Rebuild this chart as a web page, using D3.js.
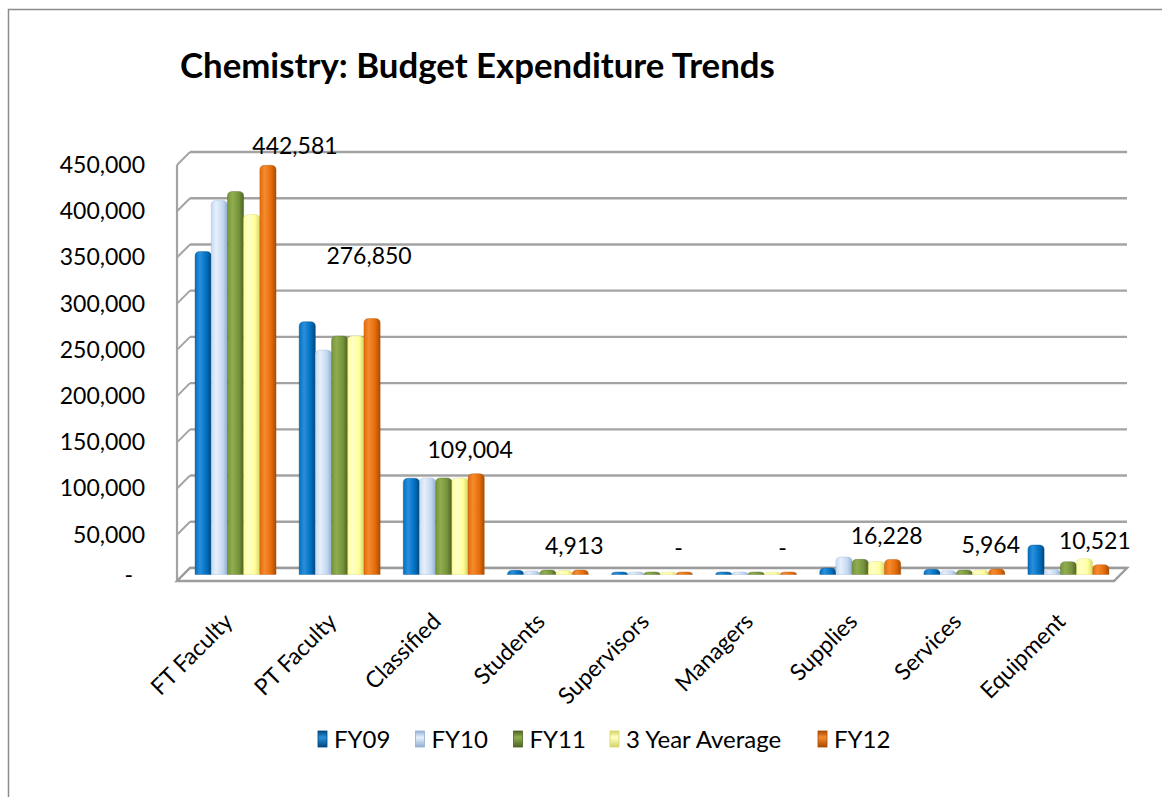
<!DOCTYPE html>
<html><head><meta charset="utf-8">
<script src="https://cdn.jsdelivr.net/npm/d3@7"></script>
<style>
body{margin:0;background:#fff;}
text{font-family:Lato,"Open Sans","DejaVu Sans",sans-serif;fill:#000;}
</style>
</head><body>
<svg id="chart" width="1162" height="797"></svg>
<script>
// ---------------- data ----------------
const categories = ["FT Faculty","PT Faculty","Classified","Students","Supervisors","Managers","Supplies","Services","Equipment"];
const seriesNames = ["FY09","FY10","FY11","3 Year Average","FY12"];
const fy09  = [349400, 273500, 104100, 4500, 0, 0, 7000, 5600, 31900];
const fy10  = [404500, 242800, 104400, 3800, 0, 0, 18900, 4100, 5500];
const fy11  = [414300, 258000, 104500, 4800, 0, 0, 16400, 4900, 13800];
const avg3  = [389400, 258100, 104333, 4367, 0, 0, 14100, 4867, 17100];
const fy12  = [442581, 276850, 109004, 4913, 0, 0, 16228, 5964, 10521];
const yTicks = [0, 50000, 100000, 150000, 200000, 250000, 300000, 350000, 400000, 450000];
const titleText = "Chemistry: Budget Expenditure Trends";

// ---------------- layout / style ----------------
const seriesValues = [fy09, fy10, fy11, avg3, fy12];
const colors = [
  {base:"#0070C0", light:"#2A8FDC", dark:"#00487E"},
  {base:"#C6D9F1", light:"#E6F0FB", dark:"#93AFD3"},
  {base:"#77933C", light:"#8FAE4E", dark:"#4D6324"},
  {base:"#FFFF99", light:"#FFFFC8", dark:"#D6D66A"},
  {base:"#E46C0A", light:"#F58B2E", dark:"#A84C02"}
];
// manual nudges of the FY12 data labels (dx, dy), as in the original
const labelNudge = [[33,4],[3,-39],[0,0],[0,0],[0,0],[0,0],[0,0],[0,0],[0,0]];

const svg = d3.select("#chart");
const depthX = 13, depthY = -13;
const plotLeft = 177, plotRight = 1114;

const yWall = d3.scaleLinear().domain([0, 450000]).range([581, 165]); // front plane
const x = d3.scaleBand().domain(categories).range([plotLeft, plotRight]).paddingInner(0).paddingOuter(0);
const groupW = 81;
const xs = d3.scaleBand().domain(seriesNames).range([0, groupW]);

// gradients
const defs = svg.append("defs");
colors.forEach((c,i)=>{
  const g = defs.append("linearGradient").attr("id","g"+i).attr("x1","0").attr("x2","1").attr("y1","0").attr("y2","0");
  g.append("stop").attr("offset","0%").attr("stop-color",c.base);
  g.append("stop").attr("offset","30%").attr("stop-color",c.light);
  g.append("stop").attr("offset","70%").attr("stop-color",c.base);
  g.append("stop").attr("offset","100%").attr("stop-color",c.dark);
  const k = defs.append("linearGradient").attr("id","k"+i).attr("x1","0").attr("x2","0").attr("y1","0").attr("y2","1");
  k.append("stop").attr("offset","0%").attr("stop-color",c.dark);
  k.append("stop").attr("offset","40%").attr("stop-color",c.light);
  k.append("stop").attr("offset","100%").attr("stop-color",c.dark);
});

// chart border
svg.append("path").attr("d","M8.5,797 L8.5,9.5 L1162,9.5").attr("fill","none").attr("stroke","#8c8c8c").attr("stroke-width",1.5);

// walls & gridlines
const grid = svg.append("g");
const gridColor = "#a3a3a3";
grid.selectAll("line.h").data(yTicks).join("line")
  .attr("x1", plotLeft + depthX).attr("x2", plotRight + depthX)
  .attr("y1", d => yWall(d) + depthY).attr("y2", d => yWall(d) + depthY)
  .attr("stroke", gridColor).attr("stroke-width", 2.4);
grid.selectAll("line.d").data(yTicks).join("line")
  .attr("x1", plotLeft).attr("x2", plotLeft + depthX)
  .attr("y1", d => yWall(d)).attr("y2", d => yWall(d) + depthY)
  .attr("stroke", gridColor).attr("stroke-width", 2);
grid.append("line").attr("x1",plotLeft).attr("x2",plotLeft)
  .attr("y1",yWall(450000)).attr("y2",yWall(0)).attr("stroke",gridColor).attr("stroke-width",2.2);

// floor
const f0 = yWall(0);
svg.append("path")
  .attr("d", `M${plotLeft},${f0} L${plotRight},${f0} L${plotRight+depthX},${f0+depthY} L${plotLeft+depthX},${f0+depthY} Z`)
  .attr("fill","#fff").attr("stroke","#9c9c9c").attr("stroke-width",2.4);

// bars
function barPath(x0, top, w, base){
  const h = base - top;
  const r = Math.min(5, w/2), ry = Math.min(4.5, h);
  return `M${x0},${base} L${x0},${top+ry} Q${x0},${top} ${x0+r},${top} L${x0+w-r},${top} Q${x0+w},${top} ${x0+w},${top+ry} L${x0+w},${base} Z`;
}
const barBase = v => yWall(v) + depthY/2;
const groupStart = c => x(c) + x.bandwidth()/2 + depthX/2 - groupW/2;
const barsG = svg.append("g");
categories.forEach((c, ci) => {
  seriesNames.forEach((s, si) => {
    const v = seriesValues[si][ci];
    const base = barBase(0);
    let top = barBase(v);
    if (base - top < 2.5) top = base - 2.5;
    barsG.append("path")
      .attr("d", barPath(groupStart(c) + xs(s), top, xs.bandwidth(), base))
      .attr("fill", `url(#g${si})`)
      .attr("stroke", colors[si].dark).attr("stroke-width", 0.6).attr("stroke-opacity",0.6);
  });
});

// FY12 data labels
const fmtLab = v => v === 0 ? "-" : d3.format(",")(v);
svg.append("g").selectAll("text").data(categories).join("text")
  .attr("x", (c,i) => groupStart(c) + xs("FY12") + xs.bandwidth()/2 - 6 + labelNudge[i][0])
  .attr("y", (c,i) => Math.min(barBase(fy12[i]), barBase(0)-2.5) - 24 + labelNudge[i][1])
  .attr("dy","0.36em")
  .attr("text-anchor","middle")
  .style("font-size","23px")
  .text((c,i) => fmtLab(fy12[i]));

// y axis
const yAxis = d3.axisLeft(yWall).tickValues(yTicks).tickSize(0).tickPadding(5)
  .tickFormat(d => d === 0 ? "-" : d3.format(",")(d));
const yg = svg.append("g").attr("transform","translate(150,0)").call(yAxis);
yg.select(".domain").remove();
yg.selectAll("text").style("font-size","23px").attr("font-family",null).attr("fill","#000");
yg.selectAll(".tick").filter(d => d === 0).select("text").attr("dx", -12).attr("dy","0.05em");

// x axis
const xAxis = d3.axisBottom(x).tickSize(0).tickPadding(0);
const xg = svg.append("g").attr("transform","translate(0,623)").call(xAxis);
xg.select(".domain").remove();
xg.selectAll("text").attr("y",0).attr("dy",0).attr("x",0)
  .attr("text-anchor","end").attr("transform","translate(5,0) rotate(-45)")
  .style("font-size","23px").attr("fill","#000");

// legend
const legendKeyX = [318, 415.5, 513.5, 610, 818];
const lg = svg.append("g");
seriesNames.forEach((s, i) => {
  lg.append("rect").attr("x", legendKeyX[i]).attr("y", 731).attr("width", 9).attr("height", 16)
    .attr("fill", `url(#k${i})`).attr("stroke", colors[i].dark).attr("stroke-width", 0.8);
  lg.append("text").attr("x", legendKeyX[i] + 16).attr("y", 739).attr("dy","0.36em")
    .style("font-size","24px").text(s);
});

// title
const title = svg.append("text").attr("x", 180).attr("y", 78)
  .style("font-size","32px").style("font-weight","bold").text(titleText);
const tw = title.node().getComputedTextLength();
if (tw > 0) title.style("font-size", (32 * 595 / tw).toFixed(2) + "px");
</script>
</body></html>
